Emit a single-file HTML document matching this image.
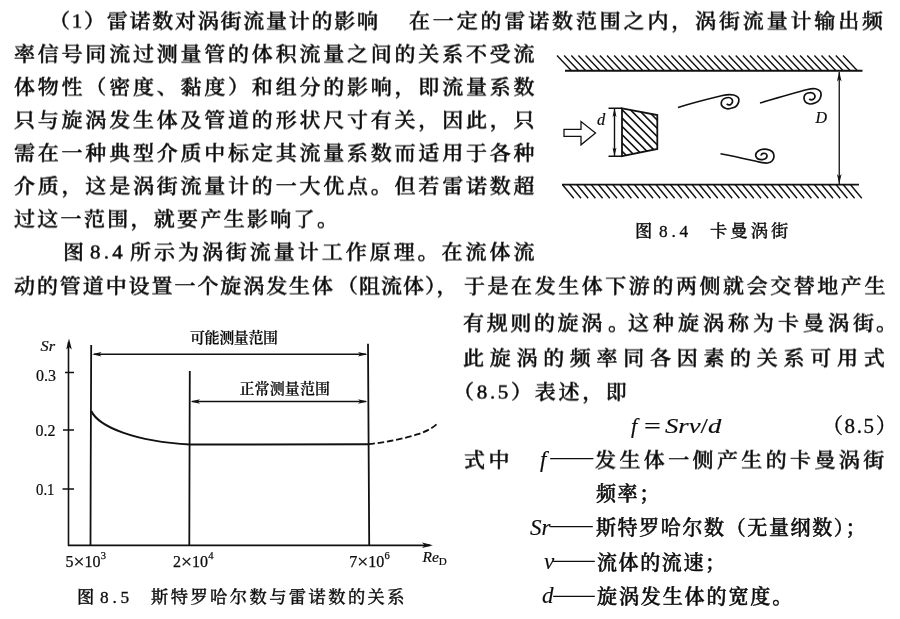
<!DOCTYPE html>
<html lang="zh-CN"><head><meta charset="utf-8"><title>涡街流量计</title>
<style>
html,body{margin:0;padding:0;background:#fff;}
body{width:900px;height:619px;position:relative;overflow:hidden;color:#0c0c0c;
font-family:"Liberation Serif","Noto Serif CJK SC",serif;font-weight:500;-webkit-text-stroke:0.5px #0c0c0c;}
.ln{will-change:transform;position:absolute;white-space:nowrap;line-height:32px;height:32px;}
.k{transform:scaleY(0.94);transform-origin:50% 50%}
.j{text-align:justify;text-align-last:justify;}
i{font-family:"Liberation Serif",serif;font-style:italic;font-weight:400;-webkit-text-stroke:0.15px #0c0c0c}
.lt{-webkit-text-stroke:0.15px #0c0c0c;font-weight:400}
.cap{-webkit-text-stroke:0.3px #0c0c0c;font-weight:500}
.ds{font-family:"Noto Serif CJK SC",serif;font-weight:300;-webkit-text-stroke:0}
svg{position:absolute;left:0;top:0;will-change:transform;-webkit-text-stroke:0}
svg text{font-family:"Liberation Serif","Noto Serif CJK SC",serif;fill:#0c0c0c}
</style></head><body>
<svg width="900" height="619" viewBox="0 0 900 619">
<defs><clipPath id="trap"><polygon points="622,108.3 657.3,115 657.3,149 622,156.2"/></clipPath></defs>
<g fill="none" stroke="#111" stroke-width="1.4" stroke-linecap="butt">
<path d="M565,70.75H862.5" stroke-width="1.8"/>
<path d="M557.0,55.5L571.5,70.75M564.1,55.5L578.6,70.75M571.3,55.5L585.8,70.75M578.4,55.5L592.9,70.75M585.6,55.5L600.1,70.75M592.7,55.5L607.2,70.75M599.9,55.5L614.4,70.75M607.0,55.5L621.5,70.75M614.2,55.5L628.7,70.75M621.3,55.5L635.8,70.75M628.5,55.5L643.0,70.75M635.6,55.5L650.1,70.75M642.8,55.5L657.3,70.75M649.9,55.5L664.4,70.75M657.1,55.5L671.6,70.75M664.2,55.5L678.7,70.75M671.4,55.5L685.9,70.75M678.5,55.5L693.0,70.75M685.7,55.5L700.2,70.75M692.8,55.5L707.3,70.75M700.0,55.5L714.5,70.75M707.1,55.5L721.6,70.75M714.3,55.5L728.8,70.75M721.4,55.5L735.9,70.75M728.6,55.5L743.1,70.75M735.7,55.5L750.2,70.75M742.9,55.5L757.4,70.75M750.0,55.5L764.5,70.75M757.2,55.5L771.7,70.75M764.3,55.5L778.8,70.75M771.5,55.5L786.0,70.75M778.6,55.5L793.1,70.75M785.8,55.5L800.3,70.75M792.9,55.5L807.4,70.75M800.1,55.5L814.6,70.75M807.2,55.5L821.7,70.75M814.4,55.5L828.9,70.75M821.5,55.5L836.0,70.75M828.7,55.5L843.2,70.75M835.8,55.5L850.3,70.75M843.0,55.5L857.5,70.75" stroke-width="1.4"/>
<path d="M562,184.7H859" stroke-width="1.8"/>
<path d="M562.3,184.5L573.8,198.3M569.5,184.5L581.0,198.3M576.7,184.5L588.2,198.3M583.9,184.5L595.4,198.3M591.1,184.5L602.6,198.3M598.3,184.5L609.8,198.3M605.5,184.5L617.0,198.3M612.7,184.5L624.2,198.3M619.9,184.5L631.4,198.3M627.1,184.5L638.6,198.3M634.3,184.5L645.8,198.3M641.5,184.5L653.0,198.3M648.7,184.5L660.2,198.3M655.9,184.5L667.4,198.3M663.1,184.5L674.6,198.3M670.3,184.5L681.8,198.3M677.5,184.5L689.0,198.3M684.7,184.5L696.2,198.3M691.9,184.5L703.4,198.3M699.1,184.5L710.6,198.3M706.3,184.5L717.8,198.3M713.5,184.5L725.0,198.3M720.7,184.5L732.2,198.3M727.9,184.5L739.4,198.3M735.1,184.5L746.6,198.3M742.3,184.5L753.8,198.3M749.5,184.5L761.0,198.3M756.7,184.5L768.2,198.3M763.9,184.5L775.4,198.3M771.1,184.5L782.6,198.3M778.3,184.5L789.8,198.3M785.5,184.5L797.0,198.3M792.7,184.5L804.2,198.3M799.9,184.5L811.4,198.3M807.1,184.5L818.6,198.3M814.3,184.5L825.8,198.3M821.5,184.5L833.0,198.3M828.7,184.5L840.2,198.3M835.9,184.5L847.4,198.3M843.1,184.5L854.6,198.3M850.3,184.5L861.8,198.3" stroke-width="1.4"/>
<path d="M839.25,72V184" stroke-width="1.3"/>
<path d="M839.25,71.5l-2.3,10l2.3,-2.5l2.3,2.5zM839.25,184l-2.3,-10l2.3,2.5l2.3,-2.5z" fill="#111" stroke="none"/>
<path d="M564,129.3H581V121.5L595.5,133L581,144.8V136.3H564Z" stroke-width="1.3"/>
<path d="M608.5,108.3H622M608.5,156.2H622M614.5,108.3V156.2" stroke-width="1.4"/>
<path d="M614.5,108.5l-2,8.5l2,-2l2,2zM614.5,156l-2,-8.5l2,2l2,-2z" fill="#111" stroke="none"/>
<polygon points="622,108.3 657.3,115 657.3,149 622,156.2" stroke-width="1.8"/>
<path d="M562.5,100L622.5,160M570.8,100L630.8,160M579.1,100L639.1,160M587.4,100L647.4,160M595.7,100L655.7,160M604.0,100L664.0,160M612.3,100L672.3,160M620.6,100L680.6,160M628.9,100L688.9,160M637.2,100L697.2,160M645.5,100L705.5,160M653.8,100L713.8,160" stroke-width="1.6" clip-path="url(#trap)"/>
<path d="M678,107.5C692,103 710,98.5 722.5,95.5C727,94.4 731,94.3 733.75,95C737.5,96 739.5,98.5 738.75,101.5C738,105 736,107 733,107.8C730,108.8 727.5,109 726,108.5C723,107.5 721,105.5 721.25,103C721.5,100.5 723,98.8 725.5,98C728,97.2 730.5,97.5 731.8,99C733,100.5 732.8,102.8 731,104.2C729.5,105.3 727.5,105 726.8,103.8" stroke-width="1.7"/>
<path d="M760,103C775,98.5 795,92.5 807.5,89.5C811,88.6 813.5,88.3 815.5,88.8C819.5,89.8 821.5,92 821,95.3C820.5,98.8 818.5,101.5 815.5,102.8C813,103.9 810.5,104.2 809,103.8C806,103 804,100.5 804,98C804,95.5 805.5,93.7 808,93C810.5,92.3 813,92.8 814.2,94.3C815.3,95.8 815,98 813.3,99.3C811.8,100.4 810,100 809.3,98.8" stroke-width="1.7"/>
<path d="M720.5,153.75C735,156.5 748,159.5 757,161.5C761,162.5 764.5,163.3 767.5,163C771.5,162.5 774,159.5 774,156C774,152.5 771,150 767,149.3C764,148.8 761,149.3 759,150.5C756.5,152 755.3,154 755.8,156C756.4,158.3 758.5,159.6 761.5,159.6C764.5,159.6 766.8,158.3 767,156.2C767.2,154.3 765.5,153 763.5,153.3C762,153.5 761,154.5 761.3,155.6" stroke-width="1.7"/>
<path d="M68.5,546V342M68,545.4H430" stroke-width="1.6"/>
<path d="M69,338.5l-2.8,11l2.8,-2.5l2.8,2.5zM433,545.2l-11,-2.8l2.5,2.8l-2.5,2.8z" fill="#111" stroke="none"/>
<path d="M65,372.5H74M63,430H74M62.5,489H74" stroke-width="1.4"/>
<path d="M91.2,345C91,400 90.6,480 90.5,545M189.8,371C189.6,430 189.4,500 189.3,545M368,343.75C368.3,400 369,500 369.2,545" stroke-width="1.8"/>
<path d="M94,354.25H366M192,401.5H366" stroke-width="1.4"/>
<path d="M92,354.25l9.5,-2.3l-2.3,2.3l2.3,2.3zM367.5,354.25l-9.5,-2.3l2.3,2.3l-2.3,2.3zM190.5,401.5l9.5,-2.3l-2.3,2.3l2.3,2.3zM367.5,401.5l-9.5,-2.3l2.3,2.3l-2.3,2.3z" fill="#111" stroke="none"/>
<path d="M91.2,411C99,427 135,441.5 190,444.5C250,444.7 320,444.4 368.5,444.2" stroke-width="2"/>
<path d="M368.5,444.2C385,442.6 404,438.6 418,434.2C426,431.6 433,428 437.7,423.2" stroke-width="1.8" stroke-dasharray="6.5,2.8"/>
</g>
<g font-size="16" stroke="#0c0c0c" stroke-width="0.2">
<text x="597" y="125.3" font-style="italic" font-size="16.5">d</text>
<text x="815.5" y="122.5" font-style="italic" font-size="16">D</text>
<text x="40.5" y="351" font-style="italic" font-size="15.5" textLength="14.5" lengthAdjust="spacingAndGlyphs">Sr</text>
<text x="36" y="380.5" textLength="20" lengthAdjust="spacingAndGlyphs">0.3</text>
<text x="35.5" y="436" textLength="20" lengthAdjust="spacingAndGlyphs">0.2</text>
<text x="36" y="495" textLength="18.5" lengthAdjust="spacingAndGlyphs">0.1</text>
<text x="65.5" y="567" stroke="#0c0c0c" stroke-width="0.25">5<tspan font-size="19.5" dy="0.8">×</tspan><tspan dy="-0.8">10</tspan><tspan dy="-8.5" dx="0.3" font-size="10.5">3</tspan></text>
<text x="173" y="567" stroke="#0c0c0c" stroke-width="0.25">2<tspan font-size="19.5" dy="0.8">×</tspan><tspan dy="-0.8">10</tspan><tspan dy="-8.5" dx="0.3" font-size="10.5">4</tspan></text>
<text x="349.3" y="567" stroke="#0c0c0c" stroke-width="0.25">7<tspan font-size="19.5" dy="0.8">×</tspan><tspan dy="-0.8">10</tspan><tspan dy="-8.5" dx="0.3" font-size="10.5">6</tspan></text>
<text x="422.5" y="561.5" font-style="italic" font-size="15.5">Re<tspan dy="3.5" font-size="11" font-style="normal">D</tspan></text>
<text x="190" y="343.3" font-size="15" font-weight="600" textLength="88" lengthAdjust="spacing">可能测量范围</text>
<text x="239.5" y="393.8" font-size="15" font-weight="600" textLength="90.5" lengthAdjust="spacing">正常测量范围</text>
</g>
</svg>
<div class="ln j k" style="left:49.3px;top:4.5px;width:329.0px;font-size:21px;">（1）雷诺数对涡街流量计的影响</div>
<div class="ln j k" style="left:409.3px;top:4.5px;width:474.0px;font-size:21px;">在一定的雷诺数范围之内，涡街流量计输出频</div>
<div class="ln j k" style="left:14.3px;top:37.5px;width:520.5px;font-size:21px;">率信号同流过测量管的体积流量之间的关系不受流</div>
<div class="ln j k" style="left:14.3px;top:71.0px;width:520.5px;font-size:21px;">体物性（密度、黏度）和组分的影响，即流量系数</div>
<div class="ln j k" style="left:14.3px;top:104.0px;width:520.5px;font-size:21px;">只与旋涡发生体及管道的形状尺寸有关，因此，只</div>
<div class="ln j k" style="left:14.3px;top:137.0px;width:520.5px;font-size:21px;">需在一种典型介质中标定其流量系数而适用于各种</div>
<div class="ln j k" style="left:14.3px;top:170.0px;width:520.5px;font-size:21px;">介质，这是涡街流量计的一大优点。但若雷诺数超</div>
<div class="ln k" style="left:14.3px;top:203.0px;font-size:21px;letter-spacing:2.3px;">过这一范围，就要产生影响了。</div>
<div class="ln k" style="left:63.3px;top:236.0px;font-size:21px;letter-spacing:0px;">图</div>
<div class="ln k" style="left:89.5px;top:236.0px;font-size:21px;letter-spacing:3.2px;">8.4</div>
<div class="ln j k" style="left:130.3px;top:236.0px;width:404.5px;font-size:21px;">所示为涡街流量计工作原理。在流体流</div>
<div class="ln j k" style="left:14.3px;top:270.0px;width:319.0px;font-size:21px;">动的管道中设置一个旋涡发生体</div>
<div class="ln k" style="left:336.7px;top:270.0px;font-size:21px;letter-spacing:1.0px;">（阻流体），</div>
<div class="ln j k" style="left:463.9px;top:270.0px;width:421.4px;font-size:21px;">于是在发生体下游的两侧就会交替地产生</div>
<div class="ln j k" style="left:463.0px;top:307.0px;width:139.2px;font-size:21px;">有规则的旋涡</div>
<div class="ln k" style="left:608.0px;top:307.0px;font-size:21px;letter-spacing:0px;">。</div>
<div class="ln j k" style="left:628.0px;top:307.0px;width:246.0px;font-size:21px;">这种旋涡称为卡曼涡街</div>
<div class="ln k" style="left:875.8px;top:307.0px;font-size:21px;letter-spacing:0px;">。</div>
<div class="ln j k" style="left:462.8px;top:342.0px;width:421.7px;font-size:21px;">此旋涡的频率同各因素的关系可用式</div>
<div class="ln k" style="left:453.0px;top:375.5px;font-size:21px;letter-spacing:2.7px;">（8.5）表述，即</div>
<div class="ln " style="left:630.5px;top:410.0px;font-size:22px;letter-spacing:0px;"><i>f</i></div>
<div class="ln lt" style="left:644.2px;top:409.5px;font-size:21px;letter-spacing:0px;transform:scaleX(1.42);transform-origin:0 50%;">=</div>
<div class="ln lt" style="left:664.7px;top:410.0px;font-size:21px;letter-spacing:0px;transform:scaleX(1.27);transform-origin:0 50%;"><i>Srv</i>/<i>d</i></div>
<div class="ln cap" style="left:822.0px;top:409.5px;font-size:21px;letter-spacing:1.6px;">（8.5）</div>
<div class="ln k" style="left:463.7px;top:444.0px;font-size:21px;letter-spacing:3.5px;">式中</div>
<div class="ln " style="left:539.5px;top:444.0px;font-size:23px;letter-spacing:0px;"><i>f</i></div>
<div class="ln ds" style="left:548.8px;top:439.4px;font-size:27.19px;">——</div>
<div class="ln j k" style="left:595.3px;top:444.0px;width:289.2px;font-size:21px;">发生体一侧产生的卡曼涡街</div>
<div class="ln " style="left:596.0px;top:478.3px;font-size:20px;letter-spacing:1.6px;">频率；</div>
<div class="ln " style="left:529.5px;top:511.5px;font-size:23px;letter-spacing:0px;"><i>Sr</i></div>
<div class="ln ds" style="left:549.3px;top:507.4px;font-size:26.89px;">——</div>
<div class="ln " style="left:596.0px;top:512.3px;font-size:20px;letter-spacing:1.62px;">斯特罗哈尔数（无量纲数）；</div>
<div class="ln " style="left:543.5px;top:545.5px;font-size:23px;letter-spacing:0px;"><i>v</i></div>
<div class="ln ds" style="left:551.8px;top:541.4px;font-size:26.28px;">——</div>
<div class="ln " style="left:597.0px;top:546.5px;font-size:20px;letter-spacing:1.6px;">流体的流速；</div>
<div class="ln " style="left:542.0px;top:580.0px;font-size:23px;letter-spacing:0px;"><i>d</i></div>
<div class="ln ds" style="left:551.8px;top:575.9px;font-size:26.28px;">——</div>
<div class="ln " style="left:597.0px;top:580.8px;font-size:20px;letter-spacing:1.9px;">旋涡发生体的宽度。</div>
<div class="ln cap" style="left:635.0px;top:216.0px;font-size:17.3px;letter-spacing:0px;">图</div>
<div class="ln cap" style="left:659.0px;top:216.0px;font-size:17.3px;letter-spacing:3.8px;">8.4</div>
<div class="ln j cap" style="left:709.7px;top:216.0px;width:78.4px;font-size:17.3px;">卡曼涡街</div>
<div class="ln cap" style="left:76.5px;top:582.3px;font-size:17.3px;letter-spacing:0px;">图</div>
<div class="ln cap" style="left:100.0px;top:582.3px;font-size:17.3px;letter-spacing:3.8px;">8.5</div>
<div class="ln j cap" style="left:150.7px;top:582.3px;width:253.6px;font-size:17.3px;">斯特罗哈尔数与雷诺数的关系</div>
</body></html>
